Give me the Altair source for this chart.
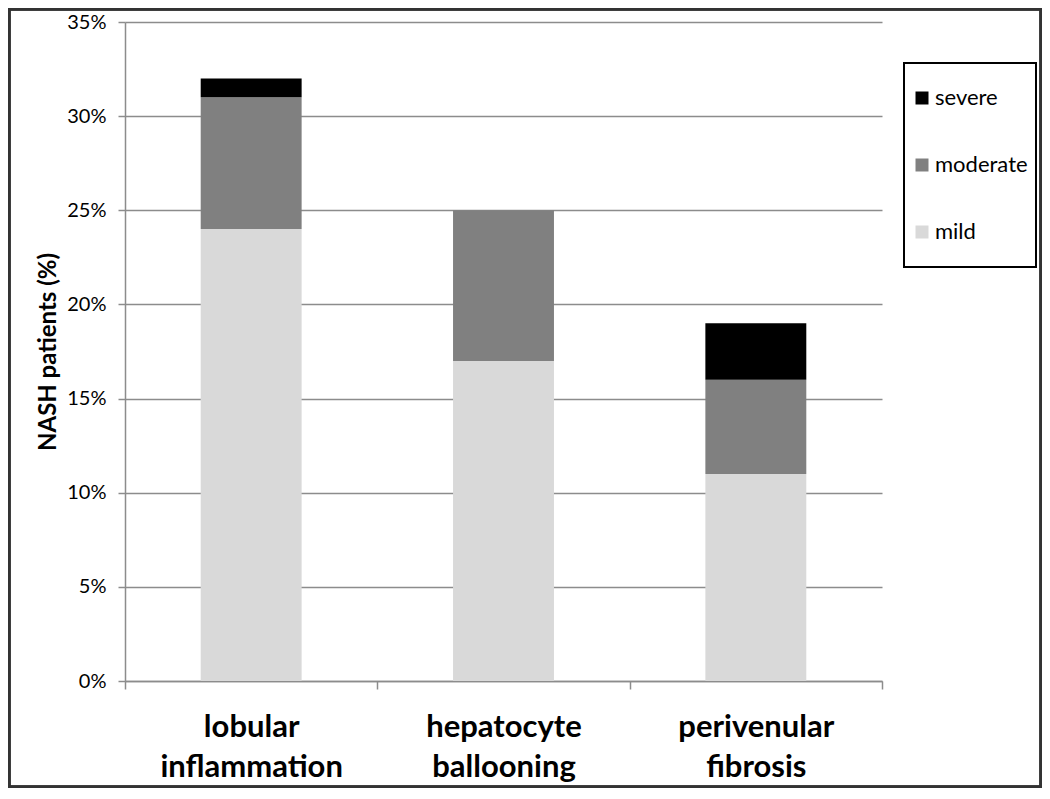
import altair as alt
import pandas as pd

categories = ["lobular inflammation", "hepatocyte ballooning", "perivenular fibrosis"]
severities = ["severe", "moderate", "mild"]
mild = [24, 17, 11]
moderate = [7, 8, 5]
severe = [1, 0, 3]
y_ticks = [0, 5, 10, 15, 20, 25, 30, 35]
colors = ["#000000", "#808080", "#d9d9d9"]

rows = []
for i, c in enumerate(categories):
    for sev, vals, rank in [("mild", mild, 0), ("moderate", moderate, 1), ("severe", severe, 2)]:
        rows.append({"category": c, "severity": sev, "value": vals[i], "rank": rank})
df = pd.DataFrame(rows)

FONT = "Lato"
W, H = 757, 659

bars = alt.Chart(df).mark_bar(stroke=None, width=alt.RelativeBandSize(0.4)).encode(
    x=alt.X("category:N", sort=categories,
            scale=alt.Scale(paddingInner=0, paddingOuter=0),
            axis=alt.Axis(title=None, labelAngle=0, labelExpr="split(datum.label, ' ')",
                          labelFont=FONT, labelFontSize=31, labelFontWeight="bold",
                          labelColor="black", labelLineHeight=40, labelPadding=23,
                          labelLimit=0,
                          tickBand="extent", tickSize=8, tickColor="#8c8c8c", tickWidth=1.5,
                          domainColor="#8c8c8c", domainWidth=1.5, grid=False)),
    y=alt.Y("value:Q", stack="zero",
            scale=alt.Scale(domain=[0, 35], nice=False),
            axis=alt.Axis(title="NASH patients (%)", values=y_ticks,
                          labelExpr="datum.value + '%'",
                          labelFont=FONT, labelFontSize=20, labelColor="black", labelPadding=12,
                          titleFont=FONT, titleFontSize=24, titleFontWeight="bold",
                          titleColor="black", titlePadding=6,
                          tickSize=7, tickColor="#8c8c8c", tickWidth=1.5,
                          domainColor="#8c8c8c", domainWidth=1.5,
                          grid=True, gridColor="#8c8c8c", gridWidth=1.5)),
    color=alt.Color("severity:N",
                    scale=alt.Scale(domain=severities, range=colors),
                    legend=alt.Legend(title=None, orient="none", legendX=786, legendY=65,
                                      symbolType="square", symbolSize=169, symbolStrokeWidth=0,
                                      labelFont=FONT, labelFontSize=22, labelColor="black",
                                      labelOffset=2, rowPadding=45)),
    order=alt.Order("rank:Q", sort="ascending"),
)

legend_box = alt.Chart(df).mark_rect(fill=None, stroke="black", strokeWidth=1.5).encode(
    x=alt.value(779), x2=alt.value(911), y=alt.value(41), y2=alt.value(245)
)

outer_box = alt.Chart(df).mark_rect(fill=None, stroke="#333333", strokeWidth=2.5).encode(
    x=alt.value(-116), x2=alt.value(916), y=alt.value(-13), y2=alt.value(765)
)

chart = alt.layer(bars, legend_box, outer_box).properties(
    width=W, height=H,
    autosize=alt.AutoSizeParams(type="none"),
    padding={"left": 117, "top": 14, "right": 160, "bottom": 107},
).configure(background="white").configure_view(stroke=None)

chart.save("out.html", embed_options={"renderer": "svg", "actions": False})
